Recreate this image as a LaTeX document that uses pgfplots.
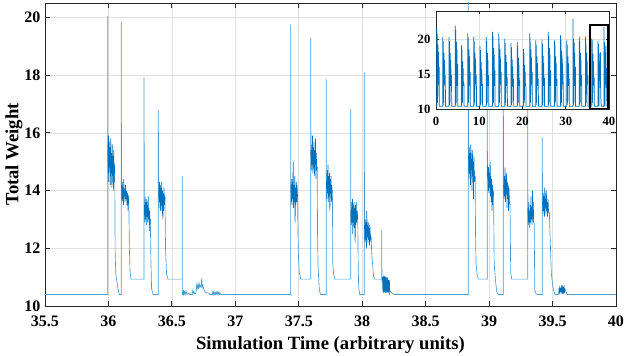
\documentclass[border=0pt]{standalone}
\usepackage{fontspec}
\setmainfont{Liberation Serif}
\usepackage{pgfplots}
\pgfplotsset{compat=1.18}
\definecolor{mblue}{RGB}{0,114,189}
\definecolor{axgray}{RGB}{38,38,38}

\pgfplotsset{
  matstyle/.style={
    scale only axis,
    tick align=inside,
    axis line style={axgray, line width=0.6pt},
    every tick/.style={axgray, line width=0.6pt},
    grid=major,
    major grid style={black!12, line width=0.5pt},
    /pgf/number format/assume math mode=true,
    clip mode=individual,
  },
}

\begin{document}
\begin{tikzpicture}
% ---- main axis ----
\begin{axis}[
  matstyle,
  width=428.25pt, height=227.25pt,
  xmin=35.5, xmax=40, ymin=10, ymax=20.5,
  xtick={35.5,36,36.5,37,37.5,38,38.5,39,39.5,40},
  xticklabels={35.5,36,36.5,37,37.5,38,38.5,39,39.5,40},
  ytick={10,12,14,16,18,20},
  major tick length=4pt,
  tick label style={font=\bfseries\fontsize{12}{13}\selectfont},
  xticklabel style={inner sep=0pt, yshift=-7.5pt},
  yticklabel style={inner sep=0pt, xshift=-3.2pt},
  label style={font=\bfseries\fontsize{14}{16}\selectfont, inner sep=0pt},
  xlabel={Simulation Time (arbitrary units)},
  ylabel={Total Weight},
  xlabel style={at={(axis description cs:0.5,-0.1)}, anchor=north},
  ylabel style={at={(axis description cs:-0.039,0.5)}, anchor=south},
]
% envelope of the signal
\addplot[mblue!70!white, line width=0.5pt] coordinates {
(35.5,10.4)(35.994,10.4)(35.994,20.05)(35.996,15.6)(36.05,14.6)(36.053,11.8)(36.058,11.1)(36.065,10.9)(36.075,10.6)(36.085,10.4)
(36.101,10.4)(36.101,19.85)(36.103,14.2)(36.16,13.8)(36.165,12)(36.17,11.2)(36.178,10.93)
(36.28,10.93)(36.28,17.92)(36.283,13.5)(36.33,13)(36.335,11.5)(36.34,10.6)(36.352,10.4)
(36.393,10.4)(36.393,16.79)(36.396,14)(36.445,13.8)(36.45,12)(36.458,11.1)(36.47,10.93)
(36.582,10.93)(36.582,14.49)(36.583,10.4)
(36.59,10.4)(36.592,10.55)(36.595,10.4)(36.6,10.5)(36.605,10.4)(36.612,10.52)(36.618,10.4)(36.63,10.45)(36.64,10.4)(36.66,10.4)
(36.665,10.55)(36.67,10.45)(36.675,10.5)(36.68,10.42)(36.69,10.45)(36.695,10.72)(36.7,10.6)(36.705,10.75)(36.71,10.62)(36.715,10.78)
(36.72,10.65)(36.725,10.7)(36.73,10.66)(36.735,10.95)(36.74,10.65)(36.745,10.72)(36.75,10.6)(36.76,10.5)(36.77,10.46)(36.79,10.45)
(36.8,10.4)(36.82,10.4)(36.822,10.48)(36.826,10.4)(36.83,10.48)(36.835,10.4)(36.84,10.48)(36.845,10.4)(36.85,10.48)(36.855,10.4)
(36.86,10.48)(36.865,10.4)(36.87,10.48)(36.875,10.4)(36.88,10.45)(36.885,10.4)
(37.436,10.4)(37.436,19.75)(37.438,14.2)(37.49,13.8)(37.494,12.5)(37.498,11.6)(37.505,11.14)(37.515,10.95)(37.523,10.93)
(37.594,10.93)(37.594,19.28)(37.596,15.4)(37.645,14.8)(37.648,12.5)(37.652,11.36)(37.662,10.55)(37.672,10.4)
(37.716,10.4)(37.716,17.85)(37.718,14.3)(37.765,13.9)(37.768,11.47)(37.775,11.1)(37.782,10.93)
(37.909,10.93)(37.909,16.82)(37.911,13.3)(37.965,13.0)(37.968,11.5)(37.972,10.67)(37.98,10.4)
(38.016,10.4)(38.016,18.1)(38.018,12.8)(38.07,12.4)(38.075,11.8)(38.09,11.0)(38.1,10.93)
(38.15,10.93)(38.153,10.93)(38.153,12.62)(38.156,10.8)(38.16,10.95)(38.22,10.5)(38.245,10.42)(38.25,10.4)
(38.836,10.4)(38.836,21.0)(38.838,15.2)(38.89,14.5)(38.893,12.5)(38.897,11.48)(38.905,11.1)(38.915,10.93)
(38.985,10.93)(38.985,19.5)(38.987,14.5)(39.035,13.9)(39.04,11.48)(39.05,10.9)(39.06,10.5)(39.072,10.4)
(39.112,10.4)(39.112,18.0)(39.114,14.2)(39.165,13.5)(39.17,11.18)(39.178,10.93)
(39.304,10.93)(39.304,19.0)(39.306,13.4)(39.355,12.9)(39.36,10.55)(39.37,10.42)(39.382,10.4)
(39.419,10.4)(39.419,15.84)(39.421,13.6)(39.475,13.2)(39.48,12.5)(39.49,11.14)(39.505,10.6)(39.519,10.4)
(39.545,10.4)(39.55,10.55)(39.6,10.55)(39.61,10.45)(39.615,10.4)(40,10.4)
};
% dense noisy parts
\addplot[mblue, line width=0.5pt, unbounded coords=jump] coordinates {
(35.996,15.6)(35.998,14.6)(36.0,15.9)(36.003,14.3)(36.006,15.7)(36.009,14.8)(36.012,15.5)(36.015,14.2)(36.018,15.8)(36.021,14.6)
(36.024,15.3)(36.027,14.1)(36.03,15.6)(36.033,14.5)(36.036,15.2)(36.039,14.0)(36.042,15.4)(36.045,14.3)(36.048,14.9)(36.05,14.6)
(36.05,nan)
(36.103,14.2)(36.106,13.6)(36.109,14.3)(36.112,13.7)(36.115,14.1)(36.118,13.5)(36.121,14.4)(36.124,13.8)(36.127,14.0)(36.13,13.6)
(36.134,14.2)(36.138,13.7)(36.142,14.0)(36.146,13.5)(36.15,13.9)(36.155,13.3)(36.16,13.8)
(36.16,nan)
(36.283,13.5)(36.286,12.9)(36.289,13.8)(36.292,13.0)(36.295,13.6)(36.298,12.8)(36.301,13.7)(36.304,13.1)(36.307,13.5)(36.31,12.9)
(36.313,13.8)(36.316,13.0)(36.319,13.4)(36.322,12.6)(36.325,13.3)(36.328,12.8)(36.33,13.0)
(36.33,nan)
(36.396,14.0)(36.399,13.4)(36.402,14.3)(36.405,13.6)(36.408,14.2)(36.411,13.3)(36.414,14.1)(36.417,13.5)(36.42,14.3)(36.423,13.2)
(36.426,14.0)(36.429,13.0)(36.432,13.9)(36.435,13.3)(36.438,14.1)(36.441,13.5)(36.445,13.8)
(36.445,nan)
(37.438,14.2)(37.441,13.6)(37.444,14.4)(37.447,13.5)(37.45,14.3)(37.453,13.7)(37.456,15.0)(37.459,13.4)(37.462,14.2)(37.465,13.6)
(37.468,14.5)(37.471,12.9)(37.474,14.1)(37.477,13.5)(37.48,14.3)(37.483,13.6)(37.486,14.2)(37.49,13.8)
(37.49,nan)
(37.596,15.4)(37.599,14.7)(37.602,15.6)(37.605,14.9)(37.608,15.9)(37.611,14.6)(37.614,15.5)(37.617,14.8)(37.62,15.7)(37.623,14.5)
(37.626,15.4)(37.629,14.9)(37.632,15.8)(37.635,14.4)(37.638,15.3)(37.641,14.7)(37.645,14.8)
(37.645,nan)
(37.718,14.3)(37.721,13.7)(37.724,14.7)(37.727,13.9)(37.73,14.9)(37.733,13.6)(37.736,14.5)(37.739,13.8)(37.742,14.6)(37.745,13.3)
(37.748,14.4)(37.751,13.9)(37.754,14.5)(37.757,13.6)(37.76,14.2)(37.765,13.9)
(37.765,nan)
(37.911,13.3)(37.914,12.8)(37.917,13.6)(37.92,12.9)(37.923,13.7)(37.926,12.5)(37.929,13.5)(37.932,12.9)(37.935,13.6)(37.938,12.7)
(37.941,13.4)(37.944,12.2)(37.947,13.5)(37.95,12.8)(37.953,13.6)(37.956,12.9)(37.96,13.3)(37.965,13.0)
(37.965,nan)
(38.018,12.8)(38.021,12.2)(38.024,13.0)(38.027,12.3)(38.03,12.9)(38.033,12.0)(38.036,13.3)(38.039,12.4)(38.042,12.8)(38.045,12.2)
(38.048,12.9)(38.051,12.3)(38.054,12.7)(38.057,12.1)(38.06,12.8)(38.065,12.3)(38.07,12.4)
(38.07,nan)
(38.16,11.0)(38.163,10.5)(38.166,11.05)(38.169,10.45)(38.172,11.0)(38.175,10.5)(38.178,11.05)(38.181,10.45)(38.184,11.0)(38.187,10.5)
(38.19,11.0)(38.193,10.45)(38.196,10.95)(38.199,10.5)(38.202,11.0)(38.205,10.45)(38.208,10.9)(38.211,10.5)(38.214,10.9)(38.217,10.45)(38.22,10.5)
(38.22,nan)
(38.838,15.2)(38.841,14.4)(38.844,15.5)(38.847,14.6)(38.85,15.3)(38.853,14.2)(38.856,15.6)(38.859,14.7)(38.862,15.1)(38.865,14.0)
(38.868,15.4)(38.871,14.5)(38.874,15.0)(38.877,13.7)(38.88,15.2)(38.884,14.3)(38.89,14.5)
(38.89,nan)
(38.987,14.5)(38.99,14.9)(38.993,14.0)(38.996,14.8)(38.999,13.9)(39.002,14.6)(39.005,14.1)(39.008,15.0)(39.011,13.8)(39.014,14.5)
(39.017,13.6)(39.02,14.4)(39.023,13.3)(39.026,14.2)(39.029,13.5)(39.032,14.0)(39.035,13.9)
(39.035,nan)
(39.114,14.2)(39.117,13.7)(39.12,14.5)(39.123,13.8)(39.126,14.8)(39.129,13.6)(39.132,14.4)(39.135,13.9)(39.138,14.6)(39.141,13.4)
(39.144,14.3)(39.147,13.7)(39.15,14.2)(39.153,13.3)(39.156,14.1)(39.16,13.6)(39.165,13.5)
(39.165,nan)
(39.306,13.4)(39.309,12.8)(39.312,13.6)(39.315,12.9)(39.318,13.3)(39.321,12.7)(39.324,13.5)(39.327,12.9)(39.33,13.8)(39.333,13.0)
(39.336,13.4)(39.339,12.8)(39.342,14.0)(39.345,13.1)(39.348,13.6)(39.351,12.9)(39.355,12.9)
(39.355,nan)
(39.421,13.6)(39.424,13.2)(39.427,13.9)(39.43,13.3)(39.433,13.8)(39.436,13.1)(39.439,14.1)(39.442,13.4)(39.445,13.7)(39.448,13.2)
(39.451,14.0)(39.454,13.3)(39.457,13.6)(39.46,13.1)(39.464,13.7)(39.468,13.3)(39.475,13.2)
(39.475,nan)
(39.55,10.62)(39.553,10.5)(39.556,10.62)(39.559,10.5)(39.562,10.63)(39.565,10.49)(39.568,10.62)(39.571,10.5)(39.574,10.62)(39.577,10.5)
(39.58,10.62)(39.583,10.5)(39.586,10.62)(39.589,10.5)(39.592,10.62)(39.595,10.5)(39.6,10.6)
};
\end{axis}

% ---- inset: whole run ----
\begin{axis}[
  matstyle,
  at={(293.25pt,147.75pt)}, anchor=south west,
  width=129.75pt, height=73.5pt,
  axis background/.style={fill=white},
  xmin=0, xmax=40, ymin=10, ymax=24,
  xtick={0,10,20,30,40}, ytick={10,15,20},
  major tick length=2pt,
  tick label style={font=\bfseries\fontsize{9.5}{10}\selectfont},
  xticklabel style={inner sep=0pt, yshift=-5.5pt},
  yticklabel style={inner sep=0pt, xshift=-4pt},
]
\addplot[mblue, line width=0.55pt] coordinates {
(0,10.4)
(0.15,10.4)(0.15,21.5)(0.19,15.2)(0.25,10.6)(0.26,20.9)(0.31,14.0)(0.37,10.9)(0.44,19.2)(0.49,13.3)(0.55,18.2)(0.61,13.6)(0.73,16.0)(0.75,10.4)
(1.58,10.4)(1.58,20.3)(1.62,15.2)(1.68,10.6)(1.69,19.7)(1.74,14.0)(1.80,10.9)(1.87,18.0)(1.92,13.3)(1.98,17.0)(2.04,13.6)(2.16,14.8)(2.18,10.4)
(3.02,10.4)(3.02,20.3)(3.06,15.2)(3.12,10.6)(3.13,19.7)(3.18,14.0)(3.24,10.9)(3.31,18.0)(3.36,13.3)(3.42,17.0)(3.48,13.6)(3.60,14.8)(3.62,10.4)
(4.45,10.4)(4.45,21.9)(4.49,15.2)(4.55,10.6)(4.56,21.3)(4.61,14.0)(4.67,10.9)(4.74,19.6)(4.79,13.3)(4.85,18.6)(4.91,13.6)(5.03,16.4)(5.05,10.4)
(5.88,10.4)(5.88,19.1)(5.92,15.2)(5.98,10.6)(5.99,18.5)(6.04,14.0)(6.10,10.9)(6.17,16.8)(6.22,13.3)(6.28,15.8)(6.34,13.6)(6.46,13.6)(6.48,10.4)
(7.32,10.4)(7.32,20.8)(7.36,15.2)(7.42,10.6)(7.43,20.2)(7.48,14.0)(7.54,10.9)(7.61,18.5)(7.66,13.3)(7.72,17.5)(7.78,13.6)(7.90,15.3)(7.92,10.4)
(8.75,10.4)(8.75,20.3)(8.79,15.2)(8.85,10.6)(8.86,19.7)(8.91,14.0)(8.97,10.9)(9.04,18.0)(9.09,13.3)(9.15,17.0)(9.21,13.6)(9.33,14.8)(9.35,10.4)
(10.18,10.4)(10.18,19.0)(10.22,15.2)(10.28,10.6)(10.29,18.4)(10.34,14.0)(10.40,10.9)(10.47,16.7)(10.52,13.3)(10.58,15.7)(10.64,13.6)(10.76,13.5)(10.78,10.4)
(11.61,10.4)(11.61,20.3)(11.65,15.2)(11.71,10.6)(11.72,19.7)(11.77,14.0)(11.83,10.9)(11.90,18.0)(11.95,13.3)(12.01,17.0)(12.07,13.6)(12.19,14.8)(12.21,10.4)
(13.05,10.4)(13.05,21.0)(13.09,15.2)(13.15,10.6)(13.16,20.4)(13.21,14.0)(13.27,10.9)(13.34,18.7)(13.39,13.3)(13.45,17.7)(13.51,13.6)(13.63,15.5)(13.65,10.4)
(14.48,10.4)(14.48,20.8)(14.52,15.2)(14.58,10.6)(14.59,20.2)(14.64,14.0)(14.70,10.9)(14.77,18.5)(14.82,13.3)(14.88,17.5)(14.94,13.6)(15.06,15.3)(15.08,10.4)
(15.91,10.4)(15.91,20.0)(15.95,15.2)(16.01,10.6)(16.02,19.4)(16.07,14.0)(16.13,10.9)(16.20,17.7)(16.25,13.3)(16.31,16.7)(16.37,13.6)(16.49,14.5)(16.51,10.4)
(17.35,10.4)(17.35,19.4)(17.39,15.2)(17.45,10.6)(17.46,18.8)(17.51,14.0)(17.57,10.9)(17.64,17.1)(17.69,13.3)(17.75,16.1)(17.81,13.6)(17.93,13.9)(17.95,10.4)
(18.78,10.4)(18.78,19.6)(18.82,15.2)(18.88,10.6)(18.89,19.0)(18.94,14.0)(19.00,10.9)(19.07,17.3)(19.12,13.3)(19.18,16.3)(19.24,13.6)(19.36,14.1)(19.38,10.4)
(20.21,10.4)(20.21,18.6)(20.25,15.2)(20.31,10.6)(20.32,18.0)(20.37,14.0)(20.43,10.9)(20.50,16.3)(20.55,13.3)(20.61,15.3)(20.67,13.6)(20.79,13.1)(20.81,10.4)
(21.65,10.4)(21.65,20.8)(21.69,15.2)(21.75,10.6)(21.76,20.2)(21.81,14.0)(21.87,10.9)(21.94,18.5)(21.99,13.3)(22.05,17.5)(22.11,13.6)(22.23,15.3)(22.25,10.4)
(23.08,10.4)(23.08,19.8)(23.12,15.2)(23.18,10.6)(23.19,19.2)(23.24,14.0)(23.30,10.9)(23.37,17.5)(23.42,13.3)(23.48,16.5)(23.54,13.6)(23.66,14.3)(23.68,10.4)
(24.51,10.4)(24.51,19.9)(24.55,15.2)(24.61,10.6)(24.62,19.3)(24.67,14.0)(24.73,10.9)(24.80,17.6)(24.85,13.3)(24.91,16.6)(24.97,13.6)(25.09,14.4)(25.11,10.4)
(25.94,10.4)(25.94,21.0)(25.98,15.2)(26.04,10.6)(26.05,20.4)(26.10,14.0)(26.16,10.9)(26.23,18.7)(26.28,13.3)(26.34,17.7)(26.40,13.6)(26.52,15.5)(26.54,10.4)
(27.38,10.4)(27.38,19.8)(27.42,15.2)(27.48,10.6)(27.49,19.2)(27.54,14.0)(27.60,10.9)(27.67,17.5)(27.72,13.3)(27.78,16.5)(27.84,13.6)(27.96,14.3)(27.98,10.4)
(28.81,10.4)(28.81,20.5)(28.85,15.2)(28.91,10.6)(28.92,19.9)(28.97,14.0)(29.03,10.9)(29.10,18.2)(29.15,13.3)(29.21,17.2)(29.27,13.6)(29.39,15.0)(29.41,10.4)
(30.24,10.4)(30.24,19.8)(30.28,15.2)(30.34,10.6)(30.35,19.2)(30.40,14.0)(30.46,10.9)(30.53,17.5)(30.58,13.3)(30.64,16.5)(30.70,13.6)(30.82,14.3)(30.84,10.4)
(31.67,10.4)(31.67,22.9)(31.71,15.2)(31.77,10.6)(31.78,20.0)(31.83,14.0)(31.89,10.9)(31.96,19.5)(32.01,13.3)(32.07,18.0)(32.13,13.6)(32.25,16.0)(32.27,10.4)
(33.11,10.4)(33.11,20.3)(33.15,15.2)(33.21,10.6)(33.22,19.7)(33.27,14.0)(33.33,10.9)(33.40,18.0)(33.45,13.3)(33.51,17.0)(33.57,13.6)(33.69,14.8)(33.71,10.4)
(34.54,10.4)(34.54,20.3)(34.58,15.2)(34.64,10.6)(34.65,19.7)(34.70,14.0)(34.76,10.9)(34.83,18.0)(34.88,13.3)(34.94,17.0)(35.00,13.6)(35.12,14.8)(35.14,10.4)
(35.99,10.4)(35.99,20.05)(36.03,15.2)(36.09,10.6)(36.10,19.85)(36.15,14.0)(36.20,10.9)(36.28,17.9)(36.33,13.3)(36.39,16.8)(36.45,13.6)(36.58,14.5)(36.60,10.4)
(37.44,10.4)(37.44,19.75)(37.48,14.0)(37.53,10.9)(37.59,19.3)(37.64,15.0)(37.68,10.4)(37.72,17.9)(37.76,14.0)(37.91,16.8)(37.96,13.0)(38.02,18.1)(38.07,12.5)(38.15,10.9)(38.25,10.4)
(38.84,10.4)(38.84,21.7)(38.89,14.5)(38.92,10.9)(38.99,19.5)(39.04,14.0)(39.07,10.4)(39.11,18.0)(39.16,13.5)(39.30,19.0)(39.35,13.0)(39.42,15.8)(39.47,13.3)(39.52,10.4)(40,10.4)
};
% zoom window
\addplot[black, line width=1.5pt] coordinates {(35.5,10)(39.7,10)(39.7,22)(35.5,22)(35.5,10)};
\end{axis}

\pgfresetboundingbox
\useasboundingbox (-33.75pt,-37.5pt) rectangle (435.75pt,229.5pt);
\end{tikzpicture}
\end{document}
